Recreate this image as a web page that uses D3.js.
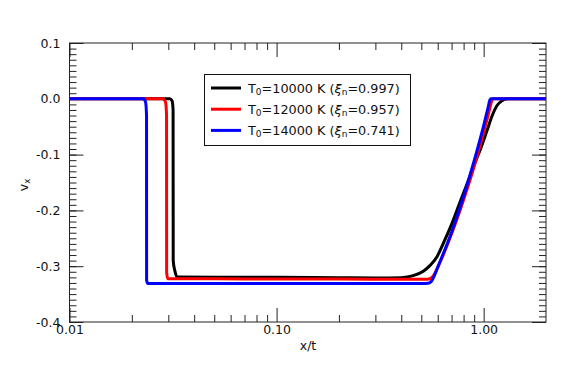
<!DOCTYPE html>
<html>
<head>
<meta charset="utf-8">
<script src="https://cdn.jsdelivr.net/npm/d3@7"></script>
<style>
  body { margin: 0; background: #fff; }
  svg text { font-family: "DejaVu Sans", sans-serif; fill: #111; }
</style>
</head>
<body>
<div id="chart"></div>
<script>
// T0 = 10000 K
var blackX = [0.01, 0.0305, 0.0313, 0.03164, 0.03168, 0.03226, 0.0330, 0.034, 0.06, 0.1, 0.2, 0.3, 0.40, 0.457, 0.511, 0.55, 0.593, 0.64, 0.70, 0.76, 0.83, 0.90, 0.97, 1.04, 1.10, 1.16, 1.22, 1.30, 2.0];
var blackV = [0, 0, -0.004, -0.02, -0.29, -0.308, -0.3185, -0.3195, -0.3198, -0.320, -0.3205, -0.321, -0.3205, -0.317, -0.309, -0.299, -0.284, -0.258, -0.225, -0.190, -0.153, -0.118, -0.088, -0.056, -0.030, -0.012, -0.004, 0, 0];
// T0 = 12000 K
var redX = [0.01, 0.0282, 0.0291, 0.02942, 0.02945, 0.0298, 0.05, 0.1, 0.2, 0.4, 0.52, 0.55, 0.575, 0.6, 0.7, 0.8, 0.9, 1.0, 1.05, 1.09, 1.105, 2.0];
var redV = [0, 0, -0.006, -0.03, -0.31, -0.3225, -0.3225, -0.323, -0.323, -0.3235, -0.3235, -0.3225, -0.316, -0.302, -0.242, -0.181, -0.121, -0.060, -0.030, -0.006, 0, 0];
// T0 = 14000 K
var blueX = [0.01, 0.0228, 0.0233, 0.02355, 0.02357, 0.0239, 0.05, 0.1, 0.3, 0.5, 0.54, 0.56, 0.58, 0.6, 0.7, 0.8, 0.9, 1.0, 1.05, 1.072, 1.085, 2.0];
var blueV = [0, 0, -0.006, -0.03, -0.325, -0.331, -0.331, -0.331, -0.331, -0.331, -0.3305, -0.327, -0.3155, -0.302, -0.239, -0.175, -0.111, -0.048, -0.016, -0.002, 0, 0];

var seriesColors = ['#000000', '#ff0000', '#0000ff'];
var tempLabels = ['10000', '12000', '14000'];
var xiLabels = ['0.997', '0.957', '0.741'];

var xMajor = [0.01, 0.1, 1];
var xMajorLabels = ['0.01', '0.10', '1.00'];
var xMinor = [0.02, 0.03, 0.04, 0.05, 0.06, 0.07, 0.08, 0.09, 0.2, 0.3, 0.4, 0.5, 0.6, 0.7, 0.8, 0.9];
var yMajor = [0.1, 0.0, -0.1, -0.2, -0.3, -0.4];
var yMajorLabels = ['0.1', '0.0', '-0.1', '-0.2', '-0.3', '-0.4'];
var yMinor = d3.range(-40, 11).map(function (i) { return i / 100; });

var width = 568, height = 371;
var plotLeft = 69.5, plotRight = 546, plotTop = 43, plotBottom = 322;

var svg = d3.select('#chart').append('svg')
    .attr('width', width)
    .attr('height', height);

var x = d3.scaleLog().domain([0.01, 2]).range([plotLeft, plotRight]);
var y = d3.scaleLinear().domain([-0.4, 0.1]).range([plotBottom, plotTop]);

function styleAxis (g) {
    g.select('.domain').remove();
    g.selectAll('line').attr('stroke', '#222');
    g.selectAll('text').style('font-size', '12.5px').attr('fill', '#111');
}

// bottom axis
svg.append('g').attr('transform', 'translate(0,' + plotBottom + ')')
    .call(d3.axisBottom(x).tickValues(xMajor).tickSize(-14).tickPadding(3)
        .tickFormat(function (d, i) { return xMajorLabels[i]; }))
    .call(styleAxis);
svg.append('g').attr('transform', 'translate(0,' + plotBottom + ')')
    .call(d3.axisBottom(x).tickValues(xMinor).tickSize(-7).tickFormat(''))
    .call(styleAxis);
// top axis
svg.append('g').attr('transform', 'translate(0,' + plotTop + ')')
    .call(d3.axisTop(x).tickValues(xMajor).tickSize(-14).tickFormat(''))
    .call(styleAxis);
svg.append('g').attr('transform', 'translate(0,' + plotTop + ')')
    .call(d3.axisTop(x).tickValues(xMinor).tickSize(-7).tickFormat(''))
    .call(styleAxis);
// left axis
svg.append('g').attr('transform', 'translate(' + plotLeft + ',0)')
    .call(d3.axisLeft(y).tickValues(yMajor).tickSize(-14).tickPadding(9)
        .tickFormat(function (d, i) { return yMajorLabels[i]; }))
    .call(styleAxis);
svg.append('g').attr('transform', 'translate(' + plotLeft + ',0)')
    .call(d3.axisLeft(y).tickValues(yMinor).tickSize(-7).tickFormat(''))
    .call(styleAxis);
// right axis
svg.append('g').attr('transform', 'translate(' + plotRight + ',0)')
    .call(d3.axisRight(y).tickValues(yMajor).tickSize(-14).tickFormat(''))
    .call(styleAxis);
svg.append('g').attr('transform', 'translate(' + plotRight + ',0)')
    .call(d3.axisRight(y).tickValues(yMinor).tickSize(-7).tickFormat(''))
    .call(styleAxis);

// curves
var line = d3.line()
    .x(function (d) { return x(d[0]); })
    .y(function (d) { return y(d[1]); })
    .curve(d3.curveMonotoneX);

var series = [d3.zip(blackX, blackV), d3.zip(redX, redV), d3.zip(blueX, blueV)];
svg.append('g').selectAll('path')
    .data(series)
    .enter()
    .append('path')
    .attr('d', line)
    .attr('fill', 'none')
    .attr('stroke', function (d, i) { return seriesColors[i]; })
    .attr('stroke-width', 3)
    .attr('stroke-linejoin', 'round');

// frame
svg.append('rect')
    .attr('x', plotLeft).attr('y', plotTop)
    .attr('width', plotRight - plotLeft).attr('height', plotBottom - plotTop)
    .attr('fill', 'none').attr('stroke', '#222').attr('stroke-width', 1);

// axis titles
svg.append('text')
    .attr('x', 308).attr('y', 350)
    .attr('text-anchor', 'middle')
    .style('font-size', '12.5px')
    .text('x/t');

var yTitle = svg.append('text')
    .attr('transform', 'translate(28,185) rotate(-90)')
    .attr('text-anchor', 'middle')
    .style('font-size', '12.5px');
yTitle.append('tspan').text('v');
yTitle.append('tspan').attr('baseline-shift', '-25%').style('font-size', '8.5px').text('x');

// legend
var legend = svg.append('g');
legend.append('rect')
    .attr('x', 204.5).attr('y', 74.5)
    .attr('width', 206).attr('height', 71)
    .attr('fill', '#fff').attr('stroke', '#111').attr('stroke-width', 1);

var rows = legend.selectAll('g.row')
    .data(seriesColors)
    .enter()
    .append('g')
    .attr('class', 'row')
    .attr('transform', function (d, i) { return 'translate(0,' + (88 + i * 21.2) + ')'; });

rows.append('line')
    .attr('x1', 211).attr('x2', 241)
    .attr('y1', 0).attr('y2', 0)
    .attr('stroke', function (d) { return d; })
    .attr('stroke-width', 3);

var labels = rows.append('text')
    .attr('x', 248).attr('y', 4.5)
    .style('font-size', '12.8px');
labels.append('tspan').text('T');
labels.append('tspan').attr('baseline-shift', '-25%').style('font-size', '9px').text('0');
labels.append('tspan').text(function (d, i) { return '=' + tempLabels[i] + ' K ('; });
labels.append('tspan').style('font-style', 'italic').text('ξ');
labels.append('tspan').attr('baseline-shift', '-25%').style('font-size', '9px').text('n');
labels.append('tspan').text(function (d, i) { return '=' + xiLabels[i] + ')'; });
</script>
</body>
</html>
